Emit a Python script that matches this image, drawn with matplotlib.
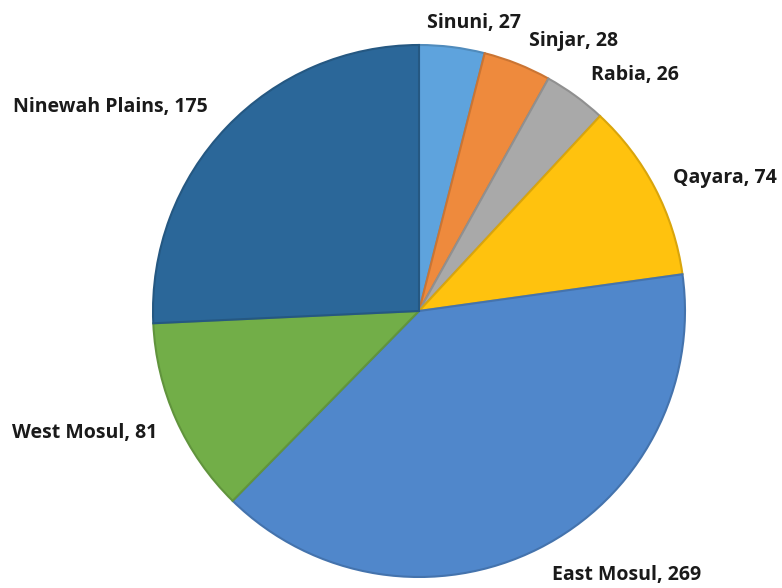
import matplotlib.pyplot as plt
import matplotlib.colors as mcolors

# ─── Data ─────────────────────────────────────────────────────────────────────
districts = ["Sinuni", "Sinjar", "Rabia", "Qayara", "East Mosul", "West Mosul", "Ninewah Plains"]
counts = [27, 28, 26, 74, 269, 81, 175]
colors = ["#5ea3dd", "#ee8a3d", "#a9a9a9", "#ffc20e", "#5087cb", "#72ae48", "#2b6799"]

# label anchor points in pixels (left x, baseline y from top)
label_pos = [(427, 28), (529, 46), (591, 80), (673, 183), (552, 580), (12, 438), (13, 112)]

W, H = 782, 588
fig = plt.figure(figsize=(W / 100, H / 100), dpi=100)
ax = fig.add_axes([0, 0, 1, 1])

cx, cy, r = 419, H - 311, 266
wedges, _ = ax.pie(counts, colors=colors, startangle=90, counterclock=False,
                   center=(cx, cy), radius=r)
for w, c in zip(wedges, colors):
    dark = [v * 0.85 for v in mcolors.to_rgb(c)]
    w.set_edgecolor(dark)
    w.set_linewidth(1.5)

for name, n, (x, y) in zip(districts, counts, label_pos):
    ax.text(x, H - y, f"{name}, {n}", ha="left", va="baseline",
            fontsize=14, fontweight="bold", family="Open Sans", color="#1a1a1a")

ax.set_xlim(0, W)
ax.set_ylim(0, H)
ax.set_aspect("equal")
ax.axis("off")

fig.savefig("out.png", dpi=100)
